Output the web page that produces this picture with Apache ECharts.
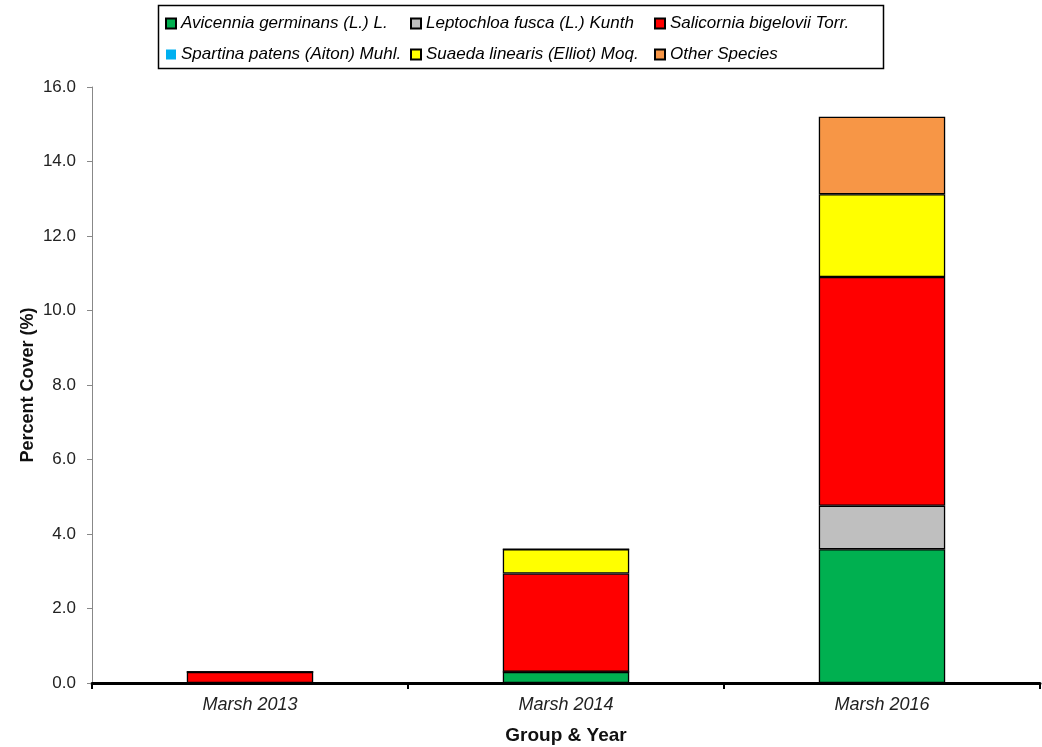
<!DOCTYPE html>
<html>
<head>
<meta charset="utf-8">
<script src="https://cdn.jsdelivr.net/npm/echarts@6/dist/echarts.min.js"></script>
<style>
html,body{margin:0;padding:0;background:#fff;}
#chart{width:1042px;height:747px;}
</style>
</head>
<body>
<div id="chart"></div>
<script>
var categories = ['Marsh 2013', 'Marsh 2014', 'Marsh 2016'];
var seriesNames = ['Avicennia germinans (L.) L.', 'Leptochloa fusca (L.) Kunth', 'Salicornia bigelovii Torr.',
  'Spartina patens (Aiton) Muhl.', 'Suaeda linearis (Elliot) Moq.', 'Other Species'];
var avicennia = [0, 0.30, 3.59];
var leptochloa = [0, 0, 1.17];
var salicornia = [0.30, 2.64, 6.14];
var spartina = [0, 0, 0];
var suaeda = [0, 0.65, 2.22];
var other = [0, 0, 2.08];
var yTicks = [0, 2, 4, 6, 8, 10, 12, 14, 16];

var values = [avicennia, leptochloa, salicornia, spartina, suaeda, other];
var colors = ['#00B050', '#BFBFBF', '#FF0000', '#00B0F0', '#FFFF00', '#F79646'];
var bordered = [true, true, true, false, true, true];

var chart = echarts.init(document.getElementById('chart'), null, {renderer: 'canvas'});
var legendText = {fontStyle: 'italic', fontSize: 17, fontFamily: 'Liberation Sans, Arial, sans-serif', color: '#000'};
var series = seriesNames.map(function (n, i) {
  return {
    name: n, type: 'bar', stack: 'total', barWidth: '40%',
    data: values[i],
    itemStyle: {color: colors[i], borderColor: bordered[i] ? '#000' : 'transparent', borderWidth: bordered[i] ? 1.3 : 0},
    emphasis: {disabled: true}
  };
});
var colLeft = [160, 405, 649];
var legends = colLeft.map(function (x, c) {
  return {data: [seriesNames[c], seriesNames[c + 3]], orient: 'vertical', left: x, top: 10,
    icon: 'rect', itemWidth: 10, itemHeight: 10, itemGap: 14, textStyle: legendText, selectedMode: false};
});
chart.setOption({
  animation: false,
  backgroundColor: '#fff',
  graphic: [{type: 'rect', left: 156, top: 3, shape: {width: 725, height: 63}, style: {fill: 'none', stroke: '#000', lineWidth: 1.5}, z: 100}],
  legend: legends,
  grid: {left: 92, top: 87, width: 948, height: 596, containLabel: false, outerBoundsMode: 'none'},
  xAxis: {
    type: 'category', data: categories, boundaryGap: true,
    axisLine: {lineStyle: {color: '#000', width: 3}},
    axisTick: {show: true, interval: 0, length: 6, lineStyle: {color: '#000', width: 2}},
    axisLabel: {fontStyle: 'italic', fontSize: 18, fontFamily: 'Liberation Sans, Arial, sans-serif', color: '#222', margin: 13},
    name: 'Group & Year', nameLocation: 'middle', nameGap: 43, nameMoveOverlap: false,
    nameTextStyle: {fontWeight: 'bold', fontSize: 19, fontFamily: 'Liberation Sans, Arial, sans-serif', color: '#111'}
  },
  yAxis: {
    type: 'value', min: yTicks[0], max: yTicks[yTicks.length - 1], interval: 2,
    axisLine: {show: true, lineStyle: {color: '#888', width: 1}},
    axisTick: {show: true, length: 5, lineStyle: {color: '#888'}},
    splitLine: {show: false},
    axisLabel: {fontSize: 17, fontFamily: 'Liberation Sans, Arial, sans-serif', color: '#222', margin: 16,
      formatter: function (v) { return v.toFixed(1); }},
    name: 'Percent Cover (%)', nameLocation: 'middle', nameGap: 55, nameRotate: 90, nameMoveOverlap: false,
    nameTextStyle: {fontWeight: 'bold', fontSize: 18, fontFamily: 'Liberation Sans, Arial, sans-serif', color: '#111'}
  },
  series: series
});
</script>
</body>
</html>
